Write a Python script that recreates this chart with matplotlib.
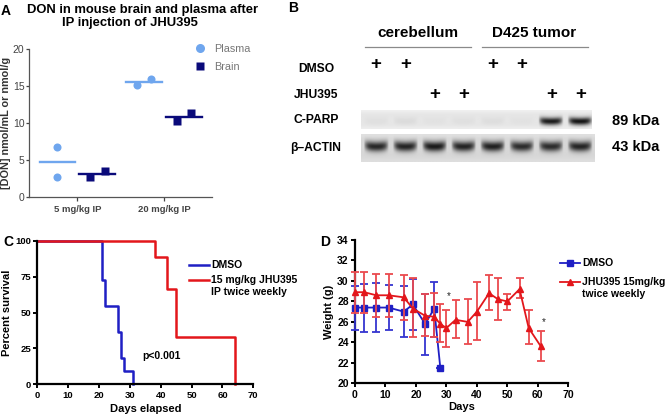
import numpy as np
import matplotlib
matplotlib.use('Agg')
import matplotlib.pyplot as plt
from matplotlib.lines import Line2D

plt.rcParams['font.family'] = ['Liberation Sans', 'DejaVu Sans']

W, H = 667, 418
fig = plt.figure(figsize=(W / 100, H / 100), dpi=100)


def px_axes(x0, y0, x1, y1):
    """axes from pixel box (top-left origin)"""
    return fig.add_axes([x0 / W, 1 - y1 / H, (x1 - x0) / W, (y1 - y0) / H])


# ---------------- data ----------------
# A: DON levels
doses = ['5 mg/kg IP', '20 mg/kg IP']
plasma_vals = [[6.8, 2.7], [15.2, 16.0]]
brain_vals = [[2.7, 3.5], [10.3, 11.4]]

# B: western blot
lanes_dmso = ['+', '+', '', '', '+', '+', '', '']
lanes_jhu = ['', '', '+', '+', '', '', '+', '+']
groups = ['cerebellum', 'D425 tumor']
cparp_band = [0.03, 0.05, 0.02, 0.03, 0.04, 0.02, 0.97, 1.0]
actin_band = [0.9, 0.92, 0.97, 0.92, 0.94, 0.88, 0.88, 0.92]

# C: survival
dmso_days = [0, 21, 22, 26, 27, 28, 31]
dmso_surv = [100, 72.7, 54.5, 36.4, 18.2, 9.1, 0]
jhu_days = [0, 38, 42, 45, 64]
jhu_surv = [100, 88.9, 66.7, 33.3, 0]

# D: weight
w_dmso_days = [0, 3, 7, 11, 16, 19, 23, 26, 28]
w_dmso = [27.4, 27.4, 27.4, 27.4, 27.0, 27.7, 25.8, 27.3, 21.5]
w_dmso_lo = [25.2, 25.0, 25.0, 25.2, 24.5, 25.2, 22.8, 24.5, 21.5]
w_dmso_hi = [29.5, 29.7, 29.8, 29.6, 29.5, 30.2, 28.7, 29.9, 21.5]
w_jhu_days = [0, 3, 7, 11, 16, 19, 23, 26, 28, 30, 33, 37, 40, 44, 47, 50, 54, 57, 61]
w_jhu = [28.9, 28.9, 28.6, 28.6, 28.4, 27.3, 26.6, 26.5, 25.8, 25.4, 26.2, 26.0,
         27.0, 28.8, 28.2, 28.0, 29.2, 25.4, 23.6]
w_jhu_lo = [26.9, 26.9, 26.5, 26.5, 26.2, 24.5, 24.6, 24.5, 24.0, 23.5, 24.4, 23.8,
            24.2, 27.2, 26.2, 27.2, 28.3, 23.8, 22.2]
w_jhu_hi = [30.9, 30.9, 30.7, 30.7, 30.6, 30.3, 28.7, 28.8, 27.7, 27.2, 28.1, 28.2,
            29.9, 30.6, 30.3, 28.7, 30.3, 27.2, 25.1]
star_days = [30, 61]
star_y = [28.5, 26.0]

LBLUE = '#6fa6ee'
NAVY = '#0a0a7a'
BLUE = '#1f1fc4'
RED = '#e3161b'

# =============================================================================
# A
# =============================================================================
ax = px_axes(29.3, 49.3, 211.7, 196.7)
pos = np.arange(1, len(doses) + 1)
off, half = 0.23, 0.205
plasma_dx = [[0, 0], [-0.083, 0.083]]
brain_dx = [[-0.085, 0.085], [-0.083, 0.083]]
for i, p in enumerate(pos):
    xp = p - off
    xb = p + off
    ax.plot([xp + d for d in plasma_dx[i]], plasma_vals[i], 'o', color=LBLUE, ms=5.8, mec='none')
    ax.plot([xp - half, xp + half], [np.mean(plasma_vals[i])] * 2, color=LBLUE, lw=1.7)
    ax.plot([xb + d for d in brain_dx[i]], brain_vals[i], 's', color=NAVY, ms=5.6, mec='none')
    ax.plot([xb - half, xb + half], [np.mean(brain_vals[i])] * 2, color=NAVY, lw=1.7)
ax.set_xlim(0.446, 2.55)
ax.set_ylim(0, 20)
ax.set_yticks([0, 5, 10, 15, 20])
ax.set_xticks(pos)
ax.set_xticklabels(doses, fontsize=6.8, fontweight='bold', color='#333333')
ax.tick_params(axis='y', labelsize=7.5, colors='#444444', length=2.5, width=0.9, pad=1)
ax.tick_params(axis='x', length=3, width=0.9, pad=3, colors='#444444')
for s in ['top', 'right']:
    ax.spines[s].set_visible(False)
for s in ['left', 'bottom']:
    ax.spines[s].set_color('#555555')
    ax.spines[s].set_linewidth(0.9)
ax.set_ylabel('[DON] nmol/mL or nmol/g', fontsize=7.8, fontweight='bold', color='#333333',
              labelpad=1)
h = [Line2D([], [], marker='o', ls='none', color=LBLUE, ms=6.5, mec='none'),
     Line2D([], [], marker='s', ls='none', color=NAVY, ms=6.2, mec='none')]
leg = ax.legend(h, ['Plasma', 'Brain'], loc='upper left', bbox_to_anchor=(0.855, 1.065),
                frameon=False, handletextpad=0.3, labelspacing=0.7, borderaxespad=0,
                prop={'size': 7.8})
for t in leg.get_texts():
    t.set_color('#777777')

fig.text(6 / W, 1 - 11 / H, 'A', fontsize=10, fontweight='bold', va='center', ha='center')
fig.text(143 / W, 1 - 10 / H, 'DON in mouse brain and plasma after', fontsize=9.4,
         fontweight='bold', va='center', ha='center')
fig.text(130 / W, 1 - 23 / H, 'IP injection of JHU395', fontsize=9.4,
         fontweight='bold', va='center', ha='center')

# =============================================================================
# B  (western blot) - x in lane units, y in pixels
# =============================================================================
axb = px_axes(290, 0, 667, 200)
lane0_px, lane_px = 376.0, 29.2
axb.set_xlim((290 - lane0_px) / lane_px, (667 - lane0_px) / lane_px)
axb.set_ylim(200, 0)
axb.axis('off')
nl = len(lanes_dmso)
lanes = np.arange(nl)

fig.text(293 / W, 1 - 8 / H, 'B', fontsize=10, fontweight='bold', va='center', ha='center')

for g, name in enumerate(groups):
    c = g * 4 + 1.5
    axb.text(c - 0.08, 33, name, fontsize=11, fontweight='bold', ha='center', va='center')
    axb.plot([c - 1.88, c + 1.75], [47, 47], color='#8a8a8a', lw=0.9)

row_x = (316 - lane0_px) / lane_px
for label, y in [('DMSO', 69), ('JHU395', 95), ('C-PARP', 120), ('β–ACTIN', 148)]:
    axb.text(row_x, y, label, fontsize=8.7, fontweight='bold', ha='center', va='center')
for i in lanes:
    if lanes_dmso[i]:
        axb.text(i, 65, lanes_dmso[i], fontsize=13.5, fontweight='bold', ha='center', va='center')
    if lanes_jhu[i]:
        axb.text(i, 95, lanes_jhu[i], fontsize=13.5, fontweight='bold', ha='center', va='center')


def blot(band, x0, x1, y0, y1, yc, sig, bg, hw=0.43):
    xs = np.linspace(x0, x1, 300)
    ys = np.linspace(0, 1, 60)[:, None]
    dark = np.zeros((60, 300))
    for i, v in enumerate(band):
        u = (xs - i) / hw
        prof_x = np.clip(1 - np.abs(u) ** 4, 0, 1)
        centre = yc - 0.06 * u ** 2
        dark += v * np.exp(-((ys - centre) / sig) ** 2) * prof_x
    edge = 0.04 * np.exp(-((ys - 0.0) / 0.15) ** 2) + 0.03 * np.exp(-((ys - 1) / 0.15) ** 2)
    img = bg + edge - (bg - 0.08) * np.clip(dark, 0, 1)
    axb.imshow(img, cmap='gray', vmin=0, vmax=1, extent=(x0, x1, y1, y0),
               aspect='auto', interpolation='bilinear', zorder=1)


cp_x0, cp_x1 = (361 - lane0_px) / lane_px, (592 - lane0_px) / lane_px
blot(cparp_band, cp_x0, cp_x1, 110, 129, 0.6, 0.2, 0.9)
ac_x1 = (595 - lane0_px) / lane_px
blot(actin_band, cp_x0, ac_x1, 135, 162, 0.45, 0.18, 0.84)
kda_x = (612 - lane0_px) / lane_px
axb.text(kda_x, 121, '89 kDa', fontsize=10.5, fontweight='bold', ha='left', va='center')
axb.text(kda_x, 147, '43 kDa', fontsize=10.5, fontweight='bold', ha='left', va='center')


def style_prism(ax, size):
    for s in ['top', 'right']:
        ax.spines[s].set_visible(False)
    for s in ['left', 'bottom']:
        ax.spines[s].set_linewidth(1.6)
    ax.tick_params(length=3, width=1.4, labelsize=size, pad=1.5)
    for lab in ax.get_xticklabels() + ax.get_yticklabels():
        lab.set_fontweight('bold')


# =============================================================================
# C
# =============================================================================
ax = px_axes(37.3, 241, 253.3, 384.3)
ax.step(dmso_days, dmso_surv, where='post', color=BLUE, lw=1.8, clip_on=False)
ax.step(jhu_days, jhu_surv, where='post', color=RED, lw=1.8, clip_on=False)
ax.set_xlim(0, 70)
ax.set_ylim(0, 100)
ax.set_xticks(range(0, 71, 10))
ax.set_yticks([0, 25, 50, 75, 100])
style_prism(ax, 6.8)
ax.set_xlabel('Days elapsed', fontsize=8, fontweight='bold', labelpad=3)
ax.set_ylabel('Percent survival', fontsize=8, fontweight='bold', labelpad=2)
ax.text(40.4, 19.7, 'p<0.001', fontsize=7.5, fontweight='bold', ha='center', va='center')
ax.add_line(Line2D([0.70, 0.795], [0.833, 0.833], color=BLUE, lw=1.8,
                   transform=ax.transAxes, clip_on=False))
ax.text(0.805, 0.833, 'DMSO', transform=ax.transAxes, fontsize=7.5,
        fontweight='bold', va='center')
ax.add_line(Line2D([0.70, 0.795], [0.728, 0.728], color=RED, lw=1.8,
                   transform=ax.transAxes, clip_on=False))
ax.text(0.805, 0.728, '15 mg/kg JHU395', transform=ax.transAxes, fontsize=7.5,
        fontweight='bold', va='center')
ax.text(0.805, 0.645, 'IP twice weekly', transform=ax.transAxes, fontsize=7.5,
        fontweight='bold', va='center')
fig.text(8 / W, 1 - 242 / H, 'C', fontsize=10, fontweight='bold', va='center', ha='center')

# =============================================================================
# D
# =============================================================================
ax = px_axes(355, 240, 568.3, 383.3)
d = np.array(w_dmso)
ax.errorbar(w_dmso_days, w_dmso, yerr=[d - np.array(w_dmso_lo), np.array(w_dmso_hi) - d],
            color=BLUE, marker='s', ms=4, lw=1.3, elinewidth=1.3, capsize=2.8, capthick=1.3,
            ecolor='#3535d0', clip_on=False, zorder=3)
j = np.array(w_jhu)
ax.errorbar(w_jhu_days, w_jhu, yerr=[j - np.array(w_jhu_lo), np.array(w_jhu_hi) - j],
            color=RED, marker='^', ms=4, lw=1.3, elinewidth=1.3, capsize=2.8, capthick=1.3,
            ecolor='#ea4a4e', clip_on=False, zorder=4)
for sx, sy in zip(star_days, star_y):
    ax.text(sx + 0.8, sy, '*', fontsize=7, ha='center', va='center', color='#222222')
ax.set_xlim(0, 70)
ax.set_ylim(20, 34)
ax.set_xticks(range(0, 71, 10))
ax.set_yticks(range(20, 35, 2))
style_prism(ax, 7.5)
ax.set_xlabel('Days', fontsize=8, fontweight='bold', labelpad=2)
ax.set_ylabel('Weight (g)', fontsize=8, fontweight='bold', labelpad=2)
ax.add_line(Line2D([0.961, 1.055], [0.84, 0.84], color=BLUE, lw=1.3,
                   transform=ax.transAxes, clip_on=False))
ax.add_line(Line2D([1.008], [0.84], color=BLUE, marker='s', ms=4,
                   transform=ax.transAxes, clip_on=False))
ax.text(1.065, 0.84, 'DMSO', transform=ax.transAxes, fontsize=7.5, fontweight='bold', va='center')
ax.add_line(Line2D([0.961, 1.055], [0.707, 0.707], color=RED, lw=1.3,
                   transform=ax.transAxes, clip_on=False))
ax.add_line(Line2D([1.008], [0.707], color=RED, marker='^', ms=4,
                   transform=ax.transAxes, clip_on=False))
ax.text(1.065, 0.707, 'JHU395 15mg/kg', transform=ax.transAxes, fontsize=7.5,
        fontweight='bold', va='center')
ax.text(1.065, 0.623, 'twice weekly', transform=ax.transAxes, fontsize=7.5,
        fontweight='bold', va='center')
fig.text(325 / W, 1 - 242 / H, 'D', fontsize=10, fontweight='bold', va='center', ha='center')

fig.savefig('out.png', dpi=100, facecolor='white')
